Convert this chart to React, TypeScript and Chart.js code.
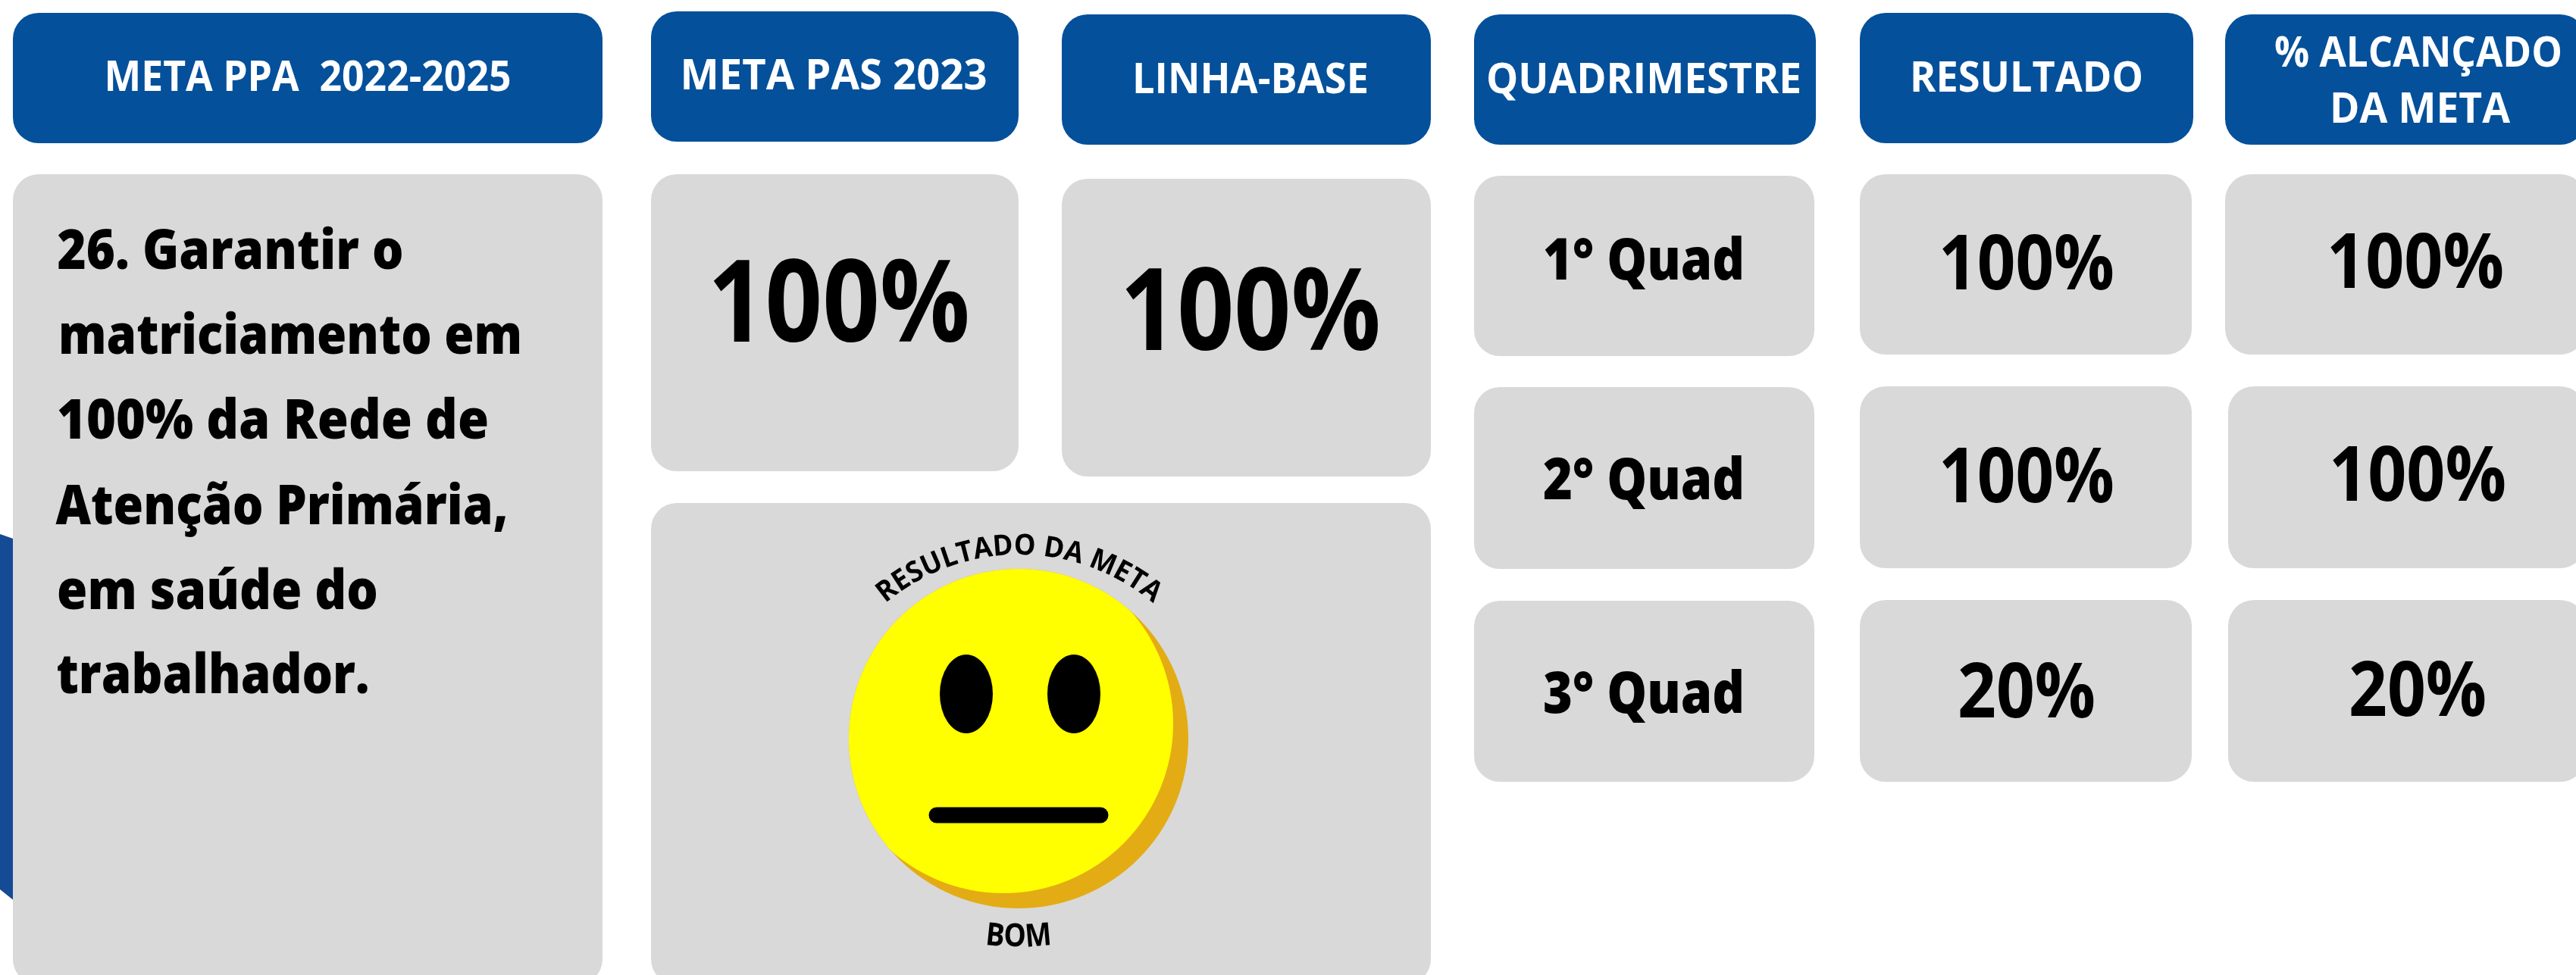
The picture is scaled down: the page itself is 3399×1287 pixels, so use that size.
import React, { useEffect, useRef } from "react";
import { Chart, registerables } from "chart.js";

Chart.register(...registerables);

// ---- Content ----
const headers = ["META PPA  2022-2025", "META PAS 2023", "LINHA-BASE", "QUADRIMESTRE", "RESULTADO", "% ALCANÇADO", "DA META"];
const goalLines = ["26. Garantir o", "matriciamento em", "100% da Rede de", "Atenção Primária,", "em saúde do", "trabalhador."];
const metaPas = [100];
const linhaBase = [100];
const quadLabels = ["1° Quad", "2° Quad", "3° Quad"];
const resultado = [100, 100, 20];
const alcancado = [100, 100, 20];
const arcTitle = "RESULTADO DA META";
const verdict = "BOM";

// ---- Layout, in page pixels (x0, y0, x1, y1) ----
const W = 3399;
const H = 1287;
const BLUE = "#04509A";
const GREY = "#D9D9D9";
const headerBoxes = [
  [17, 17, 795, 189], [859, 15, 1344, 187], [1401, 19, 1888, 191],
  [1945, 19, 2396, 191], [2454, 17, 2894, 189], [2936, 19, 3412, 191],
];
const greyBoxes = [
  [17, 230, 795, 1300], [859, 230, 1344, 622], [1401, 236, 1888, 629], [859, 664, 1888, 1300],
  [1945, 232, 2394, 470], [1945, 511, 2394, 751], [1945, 793, 2394, 1032],
  [2454, 230, 2892, 468], [2454, 510, 2892, 750], [2454, 792, 2892, 1032],
  [2936, 230, 3412, 468], [2940, 510, 3412, 750], [2940, 792, 3412, 1032],
];
// [centre x, baseline y, width]
const headerPos = [[406, 120, 537], [1100, 118, 405], [1650, 123, 312], [2169, 123, 416], [2674, 121, 308], [3191, 88, 380], [3193, 162, 238]];
const goalPos = [[304, 355, 457], [383, 467, 612], [360, 579, 570], [372, 692, 597], [287, 804, 424], [281, 915, 413]];
const pasPos = [1107, 451, 346];
const basePos = [1650, 462, 344];
const quadPos = [[2169, 369, 266], [2169, 659, 266], [2169, 941, 266]];
const resPos = [[2674, 382, 232], [2674, 663, 232], [2674, 947, 182]];
const alcPos = [[3187, 380, 234], [3190, 661, 234], [3190, 945, 182]];

const FONT = '"Open Sans", "Noto Sans", sans-serif';

function ellipseImage(rx: number, ry: number) {
  const c = document.createElement("canvas");
  c.width = rx * 2;
  c.height = ry * 2;
  const g = c.getContext("2d")!;
  g.fillStyle = "#000";
  g.beginPath();
  g.ellipse(rx, ry, rx, ry, 0, 0, Math.PI * 2);
  g.fill();
  return c;
}

// The yellow face: a disc of the same size as the shadow, shifted up-left and trimmed to the shadow's outline.
function faceImage(r: number, shift: number) {
  const c = document.createElement("canvas");
  c.width = r * 2;
  c.height = r * 2;
  const g = c.getContext("2d")!;
  g.beginPath();
  g.arc(r, r, r, 0, Math.PI * 2);
  g.clip();
  g.fillStyle = "#FFFF00";
  g.beginPath();
  g.arc(r - shift, r - shift, r, 0, Math.PI * 2);
  g.fill();
  return c;
}

function put(ctx: CanvasRenderingContext2D, text: string, pos: number[], size: number, color: string, weight = 700) {
  ctx.font = `${weight} ${size}px ${FONT}`;
  ctx.fillStyle = color;
  ctx.textAlign = "center";
  ctx.textBaseline = "alphabetic";
  ctx.fillText(text, pos[0], pos[1], pos[2]);
}

const panelsPlugin = {
  id: "panels",
  beforeDatasetsDraw(chart: any) {
    const ctx: CanvasRenderingContext2D = chart.ctx;
    const px = chart.scales.x;
    const py = chart.scales.y;
    ctx.save();
    ctx.fillStyle = "#154A94";
    ctx.beginPath();
    ctx.moveTo(px.getPixelForValue(0), py.getPixelForValue(705));
    ctx.lineTo(px.getPixelForValue(20), py.getPixelForValue(712));
    ctx.lineTo(px.getPixelForValue(20), py.getPixelForValue(1190));
    ctx.lineTo(px.getPixelForValue(0), py.getPixelForValue(1174));
    ctx.closePath();
    ctx.fill();
    const box = (b: number[], fill: string) => {
      ctx.fillStyle = fill;
      ctx.beginPath();
      ctx.roundRect(px.getPixelForValue(b[0]), py.getPixelForValue(b[1]), b[2] - b[0], b[3] - b[1], 34);
      ctx.fill();
    };
    headerBoxes.forEach((b) => box(b, BLUE));
    greyBoxes.forEach((b) => box(b, GREY));
    ctx.restore();
  },
};

const textPlugin = {
  id: "texts",
  afterDatasetsDraw(chart: any) {
    const ctx: CanvasRenderingContext2D = chart.ctx;
    ctx.save();
    headers.forEach((t, i) => put(ctx, t, headerPos[i], 55, "#FFFFFF"));
    goalLines.forEach((t, i) => put(ctx, t, goalPos[i], 72, "#000000", 800));
    put(ctx, `${metaPas[0]}%`, pasPos, 150, "#000000");
    put(ctx, `${linhaBase[0]}%`, basePos, 150, "#000000");
    quadLabels.forEach((t, i) => put(ctx, t, quadPos[i], 76, "#000000", 800));
    resultado.forEach((v, i) => put(ctx, `${v}%`, resPos[i], 100, "#000000"));
    alcancado.forEach((v, i) => put(ctx, `${v}%`, alcPos[i], 100, "#000000"));

    // Curved caption above the face
    const cx = 1345, cy = 1007, R = 275, half = (40 * Math.PI) / 180;
    ctx.font = `700 38px ${FONT}`;
    ctx.fillStyle = "#000000";
    ctx.textAlign = "center";
    const widths = [...arcTitle].map((c) => ctx.measureText(c).width);
    const total = widths.reduce((a, b) => a + b, 0);
    const stretch = (2 * half * R) / total;
    let a = -half;
    [...arcTitle].forEach((c, i) => {
      const adv = (widths[i] * stretch) / R;
      const mid = a + adv / 2;
      ctx.save();
      ctx.translate(cx + R * Math.sin(mid), cy - R * Math.cos(mid));
      ctx.rotate(mid);
      ctx.fillText(c, 0, 0, widths[i] * Math.min(stretch, 1));
      ctx.restore();
      a += adv;
    });

    // Caption below the face, following the opposite curve
    const bx = 1344, by = 470, bR = 779;
    ctx.font = `700 42px ${FONT}`;
    const bw = [...verdict].map((c) => ctx.measureText(c).width);
    const squeeze = 0.88;
    const bTotal = bw.reduce((p, q) => p + q, 0) * squeeze;
    let b = -bTotal / 2 / bR;
    [...verdict].forEach((c, i) => {
      const adv = (bw[i] * squeeze) / bR;
      const mid = b + adv / 2;
      ctx.save();
      ctx.translate(bx + bR * Math.sin(mid), by + bR * Math.cos(mid));
      ctx.rotate(-mid * 2.5);
      ctx.fillText(c, 0, 0, bw[i] * squeeze);
      ctx.restore();
      b += adv;
    });
    ctx.restore();
  },
};

export default function App() {
  const ref = useRef<HTMLCanvasElement | null>(null);
  useEffect(() => {
    document.body.style.margin = "0";
    const eye = ellipseImage(35, 52);
    const face = faceImage(224, 20);
    const chart = new Chart(ref.current!, {
      type: "scatter",
      data: {
        datasets: [
          { label: "boca", type: "line", data: [{ x: 1236, y: 1076 }, { x: 1452, y: 1076 }], borderColor: "#000000", borderWidth: 21, borderCapStyle: "round", pointRadius: 0, order: 1, clip: false } as any,
          { label: "olhos", data: [{ x: 1275, y: 916 }, { x: 1417, y: 916 }], pointStyle: eye, order: 2, clip: false } as any,
          { label: "rosto", data: [{ x: 1344, y: 975 }], pointStyle: face, order: 3, clip: false } as any,
          { label: "sombra", data: [{ x: 1344, y: 975 }], pointRadius: 224, pointBorderWidth: 0, backgroundColor: "#E4AC14", order: 4, clip: false } as any,
        ],
      },
      options: {
        animation: false,
        responsive: false,
        devicePixelRatio: 1,
        layout: { padding: 0, autoPadding: false },
        plugins: { legend: { display: false }, tooltip: { enabled: false }, title: { display: false } },
        scales: {
          x: { type: "linear", min: 0, max: W, display: false },
          y: { type: "linear", min: 0, max: H, reverse: true, display: false },
        },
      } as any,
      plugins: [panelsPlugin, textPlugin],
    });
    return () => chart.destroy();
  }, []);
  return <canvas ref={ref} width={W} height={H} style={{ display: "block" }} />;
}
